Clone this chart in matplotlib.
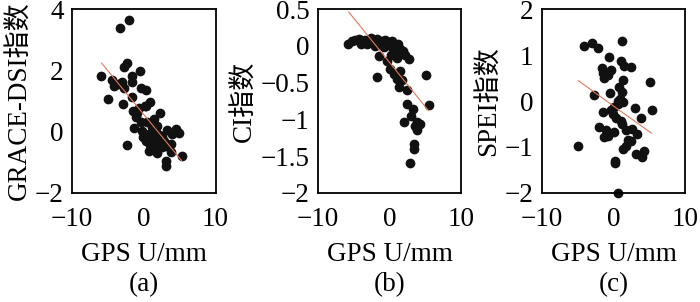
import matplotlib
matplotlib.use("Agg")
import matplotlib.pyplot as plt

plt.rcParams['font.family'] = ['Liberation Serif', 'Noto Sans CJK SC']
plt.rcParams['axes.unicode_minus'] = True

# panel (a): GPS U vs GRACE-DSI
gps_a = [-2.07, -3.38, -2.31, -2.77, -0.54, -5.99, -1.70, -4.50, -4.17, -3.01,
         -2.77, -1.61, -0.44, 0.35, -5.06, -2.96, -1.70, 0.82, 0.35, -0.68,
         -1.47, -1.14, 2.26, 1.42, 0.49, 1.89, -1.38, -0.21, 0.72, 1.42,
         3.29, 4.45, 4.92, 3.99, 2.59, 1.89, 0.26, 1.19, 2.35, 3.05,
         3.75, -2.31, 0.72, 1.89, 3.75, 5.38, 3.05, 3.15, -0.12, 1.66,
         1.19, 2.82, 0.9, 1.6, 2.1, -0.9, 0.5, 1.0, 2.5, -0.4,
         -3.6, 0.1]
dsi_a = [3.64, 3.39, 2.24, 2.10, 1.97, 1.82, 1.80, 1.67, 1.50, 1.61,
         1.41, 1.63, 1.42, 1.36, 1.05, 0.90, 1.12, 0.96, 0.85, 0.76,
         0.68, 0.47, 0.61, 0.41, 0.30, 0.20, 0.12, 0.03, -0.08, -0.18,
         0.07, 0.09, -0.05, -0.08, -0.13, -0.29, -0.29, -0.35, -0.35, -0.46,
         -0.40, -0.43, -0.62, -0.70, -0.67, -0.78, -0.95, -1.11, -0.18, -0.02,
         0.14, -0.29, -0.45, -0.55, -0.10, 0.60, -0.20, -0.25, -0.50, 0.30,
         1.55, 0.85]
fit_ax = [-5.90, 5.29]
fit_ay = [2.24, -0.95]

# panel (b): GPS U vs CI
gps_b = [-5.8, -5.3, -4.8, -4.3, -3.8, -3.4, -3.0, -2.6, -2.2, -1.8,
         -1.4, -1.0, -0.6, -0.3, 0.1, 0.4, 0.8, 1.2, 1.5, 1.9,
         0.6, 0.2, 1.1, 2.2, 2.7, -1.5, -0.4, 0.0, 1.5, -1.8,
         0.6, 1.0, 1.7, 1.25, 2.4, 5.05, 2.4, 3.3, 5.5, 3.0,
         1.95, 3.8, 4.25, 3.55, 3.8, 3.45, 3.45, 2.8, -2.0, -3.2,
         -0.8, 0.3, -4.0, 1.8]
ci_b = [0.02, 0.06, 0.08, 0.09, 0.05, 0.08, 0.06, 0.10, 0.05, 0.09,
        0.03, 0.07, 0.08, 0.02, 0.05, -0.02, 0.03, 0.02, -0.04, -0.07,
        -0.09, -0.13, -0.16, -0.13, -0.18, -0.14, -0.20, -0.32, -0.34, -0.43,
        -0.38, -0.45, -0.47, -0.56, -0.60, -0.40, -0.79, -0.86, -0.80, -0.95,
        -1.04, -1.04, -1.06, -1.09, -1.15, -1.33, -1.40, -1.59, 0.0, 0.03,
        -0.02, 0.07, 0.03, -0.10]
fit_bx = [-5.69, 5.42]
fit_by = [0.46, -0.88]

# panel (c): GPS U vs SPEI
gps_c = [1.16, -3.01, -4.07, -2.22, -0.69, 1.02, 1.48, 2.41, -1.62, -0.37,
         -1.30, -0.83, 1.34, 5.05, -2.68, -0.46, 1.16, 0.88, 1.25, 0.56,
         0.09, -1.53, 3.01, 5.42, -0.14, 0.32, 1.02, 3.80, -2.0, -1.06,
         0.09, -1.39, 1.71, 2.64, 3.33, 2.41, 1.71, 1.25, -5.0, 4.26,
         3.1, 3.94, 0.23, 0.23, 0.56, -0.83, 0.7, 1.2, -1.5, 0.6,
         2.0, -0.3]
spei_c = [1.31, 1.26, 1.20, 1.15, 0.95, 0.88, 0.77, 0.75, 0.71, 0.67,
          0.49, 0.57, 0.46, 0.41, 0.13, 0.17, 0.19, 0.04, -0.03, -0.07,
          -0.14, -0.23, -0.16, -0.19, -0.28, -0.36, -0.43, -0.38, -0.57, -0.64,
          -0.68, -0.79, -0.64, -0.61, -0.72, -0.86, -0.97, -1.04, -0.97, -1.08,
          -1.15, -1.22, -1.30, -1.35, -2.0, -0.75, 0.3, -0.5, 0.62, 0.0,
          -0.85, -0.2]
fit_cx = [-4.9, 5.28]
fit_cy = [0.44, -0.70]

panels = [
    (gps_a, dsi_a, fit_ax, fit_ay, 'GRACE-DSI指数', (-2, 4), [-2, 0, 2, 4], ['−2', '0', '2', '4'], '(a)'),
    (gps_b, ci_b, fit_bx, fit_by, 'CI指数', (-2, 0.5), [-2, -1.5, -1, -0.5, 0, 0.5],
     ['−2', '−1.5', '−1', '−0.5', '0', '0.5'], '(b)'),
    (gps_c, spei_c, fit_cx, fit_cy, 'SPEI指数', (-2, 2), [-2, -1, 0, 1, 2], ['−2', '−1', '0', '1', '2'], '(c)'),
]
lefts = [0.103, 0.454, 0.774]
fs = 19.5

fig = plt.figure(figsize=(7, 3.02), dpi=100)
for left, (gx, gy, fx, fy, ylab, ylim, yt, ytl, tag) in zip(lefts, panels):
    ax = fig.add_axes([left, 0.361, 0.205, 0.609])
    ax.scatter(gx, gy, s=36, color='#111111', zorder=2, clip_on=False)
    ax.plot(fx, fy, color='#e0785a', lw=0.8, zorder=3)
    ax.set_xlim(-10, 10)
    ax.set_ylim(*ylim)
    ax.set_xticks([-10, 0, 10])
    ax.set_xticklabels(['−10', '0', '10'])
    ax.set_yticks(yt)
    ax.set_yticklabels(ytl)
    ax.tick_params(axis='x', length=0, labelsize=fs, pad=10)
    ax.tick_params(axis='y', length=0, labelsize=fs, pad=6)
    for sp in ax.spines.values():
        sp.set_linewidth(1.3)
    ax.set_xlabel('GPS U/mm', fontsize=fs, labelpad=7)
    ax.set_ylabel(ylab, fontsize=fs, labelpad=2)
    ax.text(0.5, -0.5, tag, transform=ax.transAxes, ha='center', va='center', fontsize=fs)

fig.savefig('out.png', dpi=100)
